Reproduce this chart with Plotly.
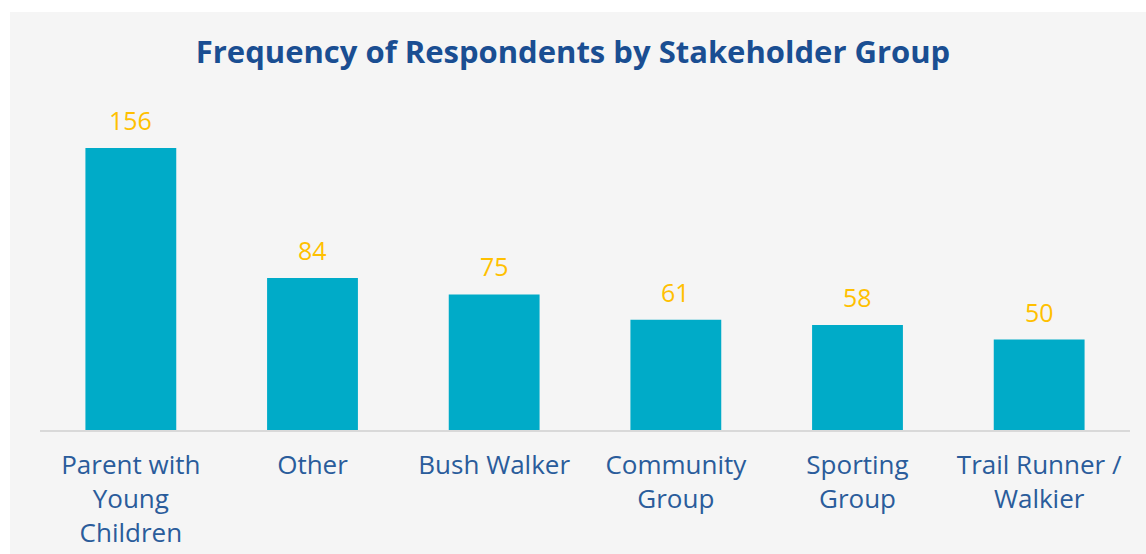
import plotly.graph_objects as go

categories = ["Parent with<br>Young<br>Children", "Other", "Bush Walker",
              "Community<br>Group", "Sporting<br>Group", "Trail Runner /<br>Walkier"]
values = [156, 84, 75, 61, 58, 50]

W, H = 1146, 554
ML, MR, MT, MB = 40, 16, 100, 124
pw = W - ML - MR
ph = H - MT - MB

def px_x(p):
    return (p - ML) / pw

def px_y(p):
    return (H - MB - p) / ph

fig = go.Figure(go.Bar(
    x=categories, y=values,
    marker=dict(color="#00ABC8", line=dict(width=0)),
    cliponaxis=False,
    hoverinfo="x+y",
))

for c, v in zip(categories, values):
    fig.add_annotation(x=c, y=v, text=str(v), showarrow=False,
                       yanchor="bottom", yshift=9,
                       font=dict(color="#FFC000", size=25, family="Open Sans"))

fig.update_layout(
    width=W, height=H,
    margin=dict(l=ML, r=MR, t=MT, b=MB, autoexpand=False),
    paper_bgcolor="white",
    plot_bgcolor="rgba(0,0,0,0)",
    bargap=0.5,
    showlegend=False,
    title=dict(text="<b>Frequency of Respondents by Stakeholder Group</b>",
               x=0.5, xanchor="center", y=1 - 52 / H, yanchor="middle",
               font=dict(size=31, color="#1A4E92", family="Open Sans")),
    xaxis=dict(showline=True, linecolor="#D9D9D9", linewidth=2,
               tickfont=dict(size=26, color="#2A5C9B", family="Open Sans"),
               ticks="", showgrid=False, ticklabelstandoff=11,
               automargin=False),
    yaxis=dict(range=[0, 182.5], visible=False, showgrid=False,
               automargin=False),
    shapes=[dict(type="rect", xref="paper", yref="paper",
                 x0=px_x(10), x1=px_x(1160), y0=px_y(570), y1=px_y(12),
                 fillcolor="#F5F5F5", line=dict(width=0), layer="below")],
)

fig.write_html("out.html",
               config={"displayModeBar": False},
               post_script="document.body.style.margin='0';"
                           "document.body.style.overflow='hidden';")
